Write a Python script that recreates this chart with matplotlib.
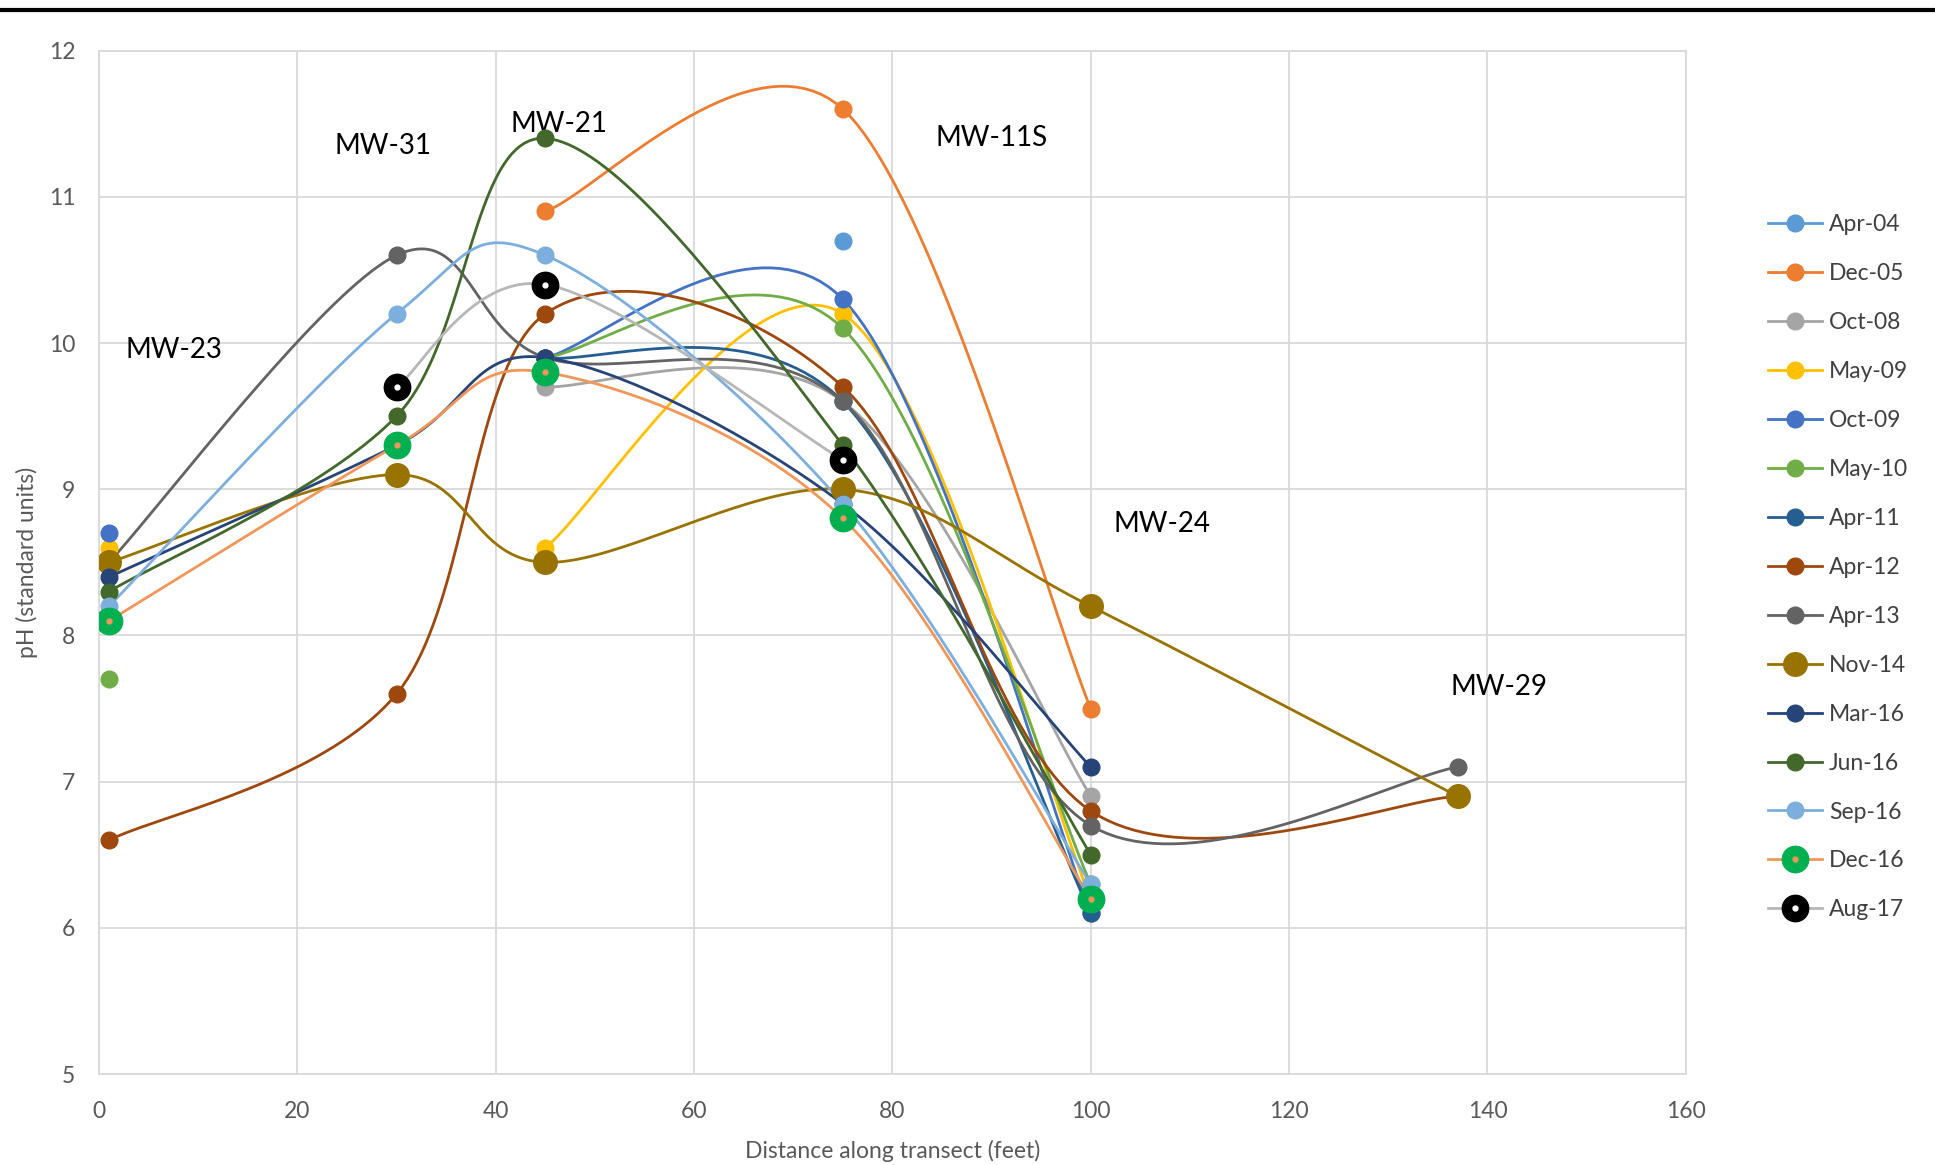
import matplotlib
matplotlib.use('Agg')
import matplotlib.pyplot as plt
import numpy as np
from matplotlib.lines import Line2D
from matplotlib.legend_handler import HandlerTuple

plt.rcParams['font.family'] = ['Lato', 'DejaVu Sans']

# distance along transect of each well (feet)
distance = [1, 30, 45, 75, 100, 137]
nan = np.nan

# pH readings per sampling event (nan = not sampled)
apr04 = [nan, nan, nan, 10.7, nan, nan]
dec05 = [nan, nan, 10.9, 11.6, 7.5, nan]
oct08 = [nan, nan, 9.7, 9.6, 6.9, nan]
may09 = [8.6, nan, 8.6, 10.2, 6.2, nan]
oct09 = [8.7, nan, 9.9, 10.3, 6.1, nan]
may10 = [7.7, nan, 9.9, 10.1, 6.3, nan]
apr11 = [nan, nan, 9.9, 9.6, 6.1, nan]
apr12 = [6.6, 7.6, 10.2, 9.7, 6.8, 6.9]
apr13 = [8.5, 10.6, 9.9, 9.6, 6.7, 7.1]
nov14 = [8.5, 9.1, 8.5, 9.0, 8.2, 6.9]
mar16 = [8.4, 9.3, 9.9, 8.9, 7.1, nan]
jun16 = [8.3, 9.5, 11.4, 9.3, 6.5, nan]
sep16 = [8.2, 10.2, 10.6, 8.9, 6.3, nan]
dec16 = [8.1, 9.3, 9.8, 8.8, 6.2, nan]
aug17 = [nan, 9.7, 10.4, 9.2, nan, nan]

labels = ['Apr-04', 'Dec-05', 'Oct-08', 'May-09', 'Oct-09', 'May-10', 'Apr-11',
          'Apr-12', 'Apr-13', 'Nov-14', 'Mar-16', 'Jun-16', 'Sep-16', 'Dec-16', 'Aug-17']
series = [apr04, dec05, oct08, may09, oct09, may10, apr11,
          apr12, apr13, nov14, mar16, jun16, sep16, dec16, aug17]

line_colors = ['#5B9BD5', '#ED7D31', '#A5A5A5', '#FFC000', '#4472C4', '#70AD47', '#255E91',
               '#9E480E', '#636363', '#997300', '#264478', '#43682B', '#7CAFDD', '#F1975A', '#B7B7B7']
marker_colors = line_colors[:13] + ['#00B050', '#000000']
marker_sizes = [12] * 9 + [17, 12, 12, 12, 19, 19]
center_dots = {13: '#F1975A', 14: '#FFFFFF'}

stations = ['MW-23', 'MW-31', 'MW-21', 'MW-11S', 'MW-24', 'MW-29']
station_pos = [(7.5, 9.95), (28.6, 11.35), (46.4, 11.5), (90, 11.4), (107.2, 8.76), (141.2, 7.65)]


def smooth(x, y, n=40):
    # Excel-like smoothed line (Catmull-Rom style bezier)
    pts = np.column_stack([x, y])
    if len(pts) < 2:
        return pts
    P = np.vstack([pts[0], pts, pts[-1]])
    t = np.linspace(0, 1, n)[:, None]
    out = []
    for i in range(1, len(P) - 2):
        p0, p1, p2, p3 = P[i - 1], P[i], P[i + 1], P[i + 2]
        c1 = p1 + (p2 - p0) / 6
        c2 = p2 - (p3 - p1) / 6
        out.append((1 - t) ** 3 * p1 + 3 * (1 - t) ** 2 * t * c1
                   + 3 * (1 - t) * t ** 2 * c2 + t ** 3 * p2)
    return np.vstack(out)


fig = plt.figure(figsize=(19.35, 11.65), dpi=100)
ax = fig.add_axes([0.0512, 0.078, 0.8200, 0.8786])

x = np.array(distance, dtype=float)
handles = []
for i, (lab, vals) in enumerate(zip(labels, series)):
    y = np.array(vals, dtype=float)
    ok = ~np.isnan(y)
    # draw each unbroken run as a smooth line
    idx = np.where(ok)[0]
    runs = np.split(idx, np.where(np.diff(idx) > 1)[0] + 1) if len(idx) else []
    for r in runs:
        if len(r) > 1:
            c = smooth(x[r], y[r])
            ax.plot(c[:, 0], c[:, 1], color=line_colors[i], lw=2, zorder=2 + i * 0.1)
    ax.plot(x[ok], y[ok], ls='none', marker='o', ms=marker_sizes[i],
            mfc=marker_colors[i], mec=marker_colors[i], zorder=5 + i * 0.1)
    h = Line2D([], [], color=line_colors[i], lw=2, marker='o', ms=marker_sizes[i],
               mfc=marker_colors[i], mec=marker_colors[i])
    if i in center_dots:
        ax.plot(x[ok], y[ok], ls='none', marker='o', ms=3.5,
                mfc=center_dots[i], mec=center_dots[i], zorder=5.05 + i * 0.1)
        dot = Line2D([], [], ls='none', marker='o', ms=3.5,
                     mfc=center_dots[i], mec=center_dots[i])
        h = (h, dot)
    handles.append(h)

for name, (sx, sy) in zip(stations, station_pos):
    ax.text(sx, sy, name, fontsize=20, ha='center', va='center', color='black')

ax.set_xlim(0, 160)
ax.set_ylim(5, 12)
ax.set_xticks(np.arange(0, 161, 20))
ax.set_yticks(np.arange(5, 13, 1))
ax.grid(True, color='#D9D9D9', lw=1.3)
ax.set_axisbelow(True)
for s in ax.spines.values():
    s.set_color('#D9D9D9')
    s.set_linewidth(1.3)
ax.tick_params(length=0, labelsize=16.5, colors='#595959')
ax.tick_params(axis='y', pad=17)
ax.tick_params(axis='x', pad=19)
ax.set_xlabel('Distance along transect (feet)', fontsize=16.5, color='#595959', labelpad=13)
ax.set_ylabel('pH (standard units)', fontsize=16.5, color='#595959', labelpad=8)

fig.legend(handles, labels, loc='upper left', bbox_to_anchor=(0.903, 0.834),
           frameon=False, fontsize=16.5, handlelength=2.36, handletextpad=0.3,
           labelspacing=1.22, labelcolor='#404040',
           handler_map={tuple: HandlerTuple(ndivide=1)})

# rule across the top of the page
fig.add_artist(Line2D([0, 1], [0.9914, 0.9914], transform=fig.transFigure,
                      color='black', lw=3))

plt.savefig('out.png', dpi=100)
